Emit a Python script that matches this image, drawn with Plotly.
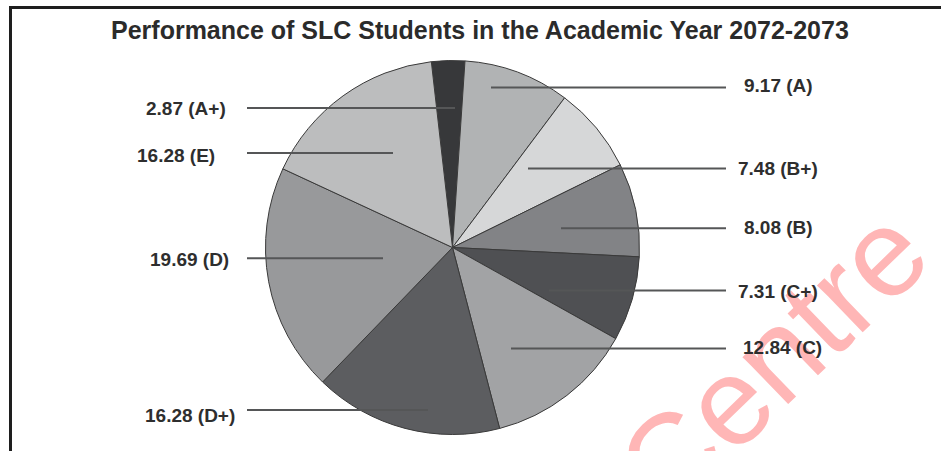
import plotly.graph_objects as go

# Grade shares (percent), clockwise from 12 o'clock
grades = ["A+", "A", "B+", "B", "C+", "C", "D+", "D", "E"]
shares = [2.87, 9.17, 7.48, 8.08, 7.31, 12.84, 16.28, 19.69, 16.28]
title_text = "Performance of SLC Students in the Academic Year 2072-2073"

# Greyscale fill per slice
slice_colors = ["#37383a", "#b1b3b4", "#d6d7d8", "#828386", "#4f5053",
                "#a2a3a5", "#5c5d60", "#98999b", "#bcbdbe"]

W, H = 941, 451


def px(x):
    return x / W


def py(y):
    return 1 - y / H


# Leader placement (pixels): side, text anchor x, line y, inner end x, text y
leaders = {
    "A+": ("left", 228, 108, 455, 108),
    "A": ("right", 778, 87.5, 491, 85),
    "B+": ("right", 778, 168.5, 528, 168),
    "B": ("right", 778, 228.3, 561, 227.5),
    "C+": ("right", 778, 290.5, 549, 291.5),
    "C": ("right", 782, 348.5, 511, 347.5),
    "D+": ("left", 237, 410, 428, 415.5),
    "D": ("left", 231, 258.3, 383, 259),
    "E": ("left", 217, 153, 393, 155),
}

# Pie geometry (pixels)
cx, cy, r = 452.5, 247.5, 187

fig = go.Figure(go.Pie(
    labels=grades,
    values=shares,
    sort=False,
    direction="clockwise",
    rotation=-6.5,
    marker=dict(colors=slice_colors, line=dict(color="#3a3a3a", width=1)),
    textinfo="none",
    hoverinfo="label+value",
    showlegend=False,
    domain=dict(x=[px(cx - r), px(cx + r)], y=[py(cy + r), py(cy - r)]),
))

annotations = [
    # watermark
    dict(text="Centre", x=px(772), y=py(360), xref="paper", yref="paper",
         showarrow=False, textangle=-44, xanchor="center", yanchor="middle",
         font=dict(family="Liberation Sans", size=124, color="#ffb6b6")),
    # title
    dict(text=title_text, x=px(480), y=py(29.5), xref="paper", yref="paper",
         showarrow=False, xanchor="center", yanchor="middle",
         font=dict(family="Liberation Sans", size=25, color="#2b2b2b",
                   weight="bold")),
]

shapes = [
    # frame lines (top, left)
    dict(type="line", xref="paper", yref="paper", x0=px(9), x1=1,
         y0=py(7.5), y1=py(7.5), line=dict(color="#1e1e1e", width=3)),
    dict(type="line", xref="paper", yref="paper", x0=px(10.5), x1=px(10.5),
         y0=py(6), y1=0, line=dict(color="#1e1e1e", width=3)),
]

for g, v in zip(grades, shares):
    side, tx, ly, inner, ty = leaders[g]
    if side == "left":
        x0, x1 = 247, inner
        anchor = "right"
    else:
        x0, x1 = inner, 726
        anchor = "center"
    shapes.append(dict(type="line", xref="paper", yref="paper",
                       x0=px(x0), x1=px(x1), y0=py(ly), y1=py(ly),
                       line=dict(color="#555657", width=2)))
    annotations.append(dict(
        text=f"{v:.2f} ({g})", x=px(tx), y=py(ty), xref="paper", yref="paper",
        showarrow=False, xanchor=anchor, yanchor="middle",
        font=dict(family="Liberation Sans", size=19, color="#2e2e2e",
                  weight="bold")))

fig.update_layout(
    width=W, height=H,
    margin=dict(l=0, r=0, t=0, b=0),
    paper_bgcolor="white",
    plot_bgcolor="white",
    annotations=annotations,
    shapes=shapes,
)

fig.write_html("out.html")
